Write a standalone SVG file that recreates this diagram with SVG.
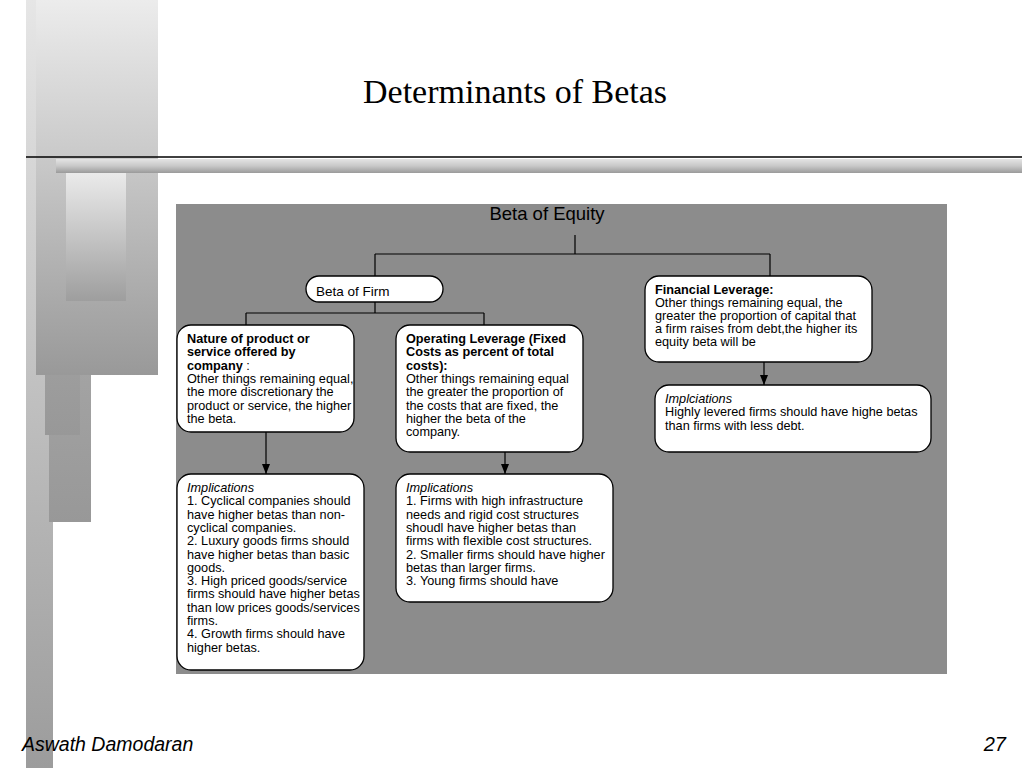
<svg xmlns="http://www.w3.org/2000/svg" width="1024" height="768" viewBox="0 0 1024 768">
<defs>
<linearGradient id="gStrip" x1="0" y1="0" x2="0" y2="1"><stop offset="0" stop-color="#e6e6e6"/><stop offset="1" stop-color="#9c9c9c"/></linearGradient>
<linearGradient id="gBig" x1="0" y1="0" x2="0" y2="1"><stop offset="0" stop-color="#ececec"/><stop offset="1" stop-color="#999999"/></linearGradient>
<linearGradient id="gMid" x1="0" y1="0" x2="0" y2="1"><stop offset="0" stop-color="#b4b4b4"/><stop offset="1" stop-color="#989898"/></linearGradient>
<linearGradient id="gSmall" x1="0" y1="0" x2="0" y2="1"><stop offset="0" stop-color="#ebebeb"/><stop offset="1" stop-color="#9e9e9e"/></linearGradient>
<linearGradient id="gBar" x1="0" y1="0" x2="0" y2="1"><stop offset="0" stop-color="#e4e4e4"/><stop offset="0.5" stop-color="#c8c8c8"/><stop offset="1" stop-color="#9a9a9a"/></linearGradient>
<marker id="arr" markerWidth="10" markerHeight="8" refX="10" refY="4" orient="auto" markerUnits="userSpaceOnUse" viewBox="0 0 10 8">
<path d="M0,0 L10,4 L0,8 Z" fill="#000"/>
</marker>
<style>
.box{fill:#fff;stroke:#000;stroke-width:1.3}
.t{font-family:"Liberation Sans",Arial,sans-serif;font-size:12.7px;fill:#000}
.b{font-weight:bold}
.i{font-style:italic}
.c{stroke:#000;stroke-width:1.2;fill:none}
</style>
</defs>
<rect width="1024" height="768" fill="#fff"/>
<g id="decoration">
<rect x="26" y="0" width="27" height="768" fill="url(#gStrip)"/>
<rect x="49" y="140" width="42" height="382" fill="url(#gMid)"/>
<rect x="45" y="100" width="35" height="335" fill="url(#gMid)"/>
<rect x="36" y="0" width="122" height="375" fill="url(#gBig)"/>
<rect x="66" y="172" width="60" height="129" fill="url(#gSmall)"/>
<line x1="26" y1="157" x2="1022" y2="157" stroke="#000" stroke-width="1.6"/>
<rect x="56" y="159" width="966" height="14" fill="url(#gBar)"/>
</g>
<text x="515" y="103" text-anchor="middle" font-family="Liberation Serif,'Times New Roman',serif" font-size="34" fill="#000">Determinants of Betas</text>
<rect x="176" y="204" width="771" height="470" fill="#8c8c8c"/>
<g id="connectors">
<path class="c" d="M575,235 V254 M375,254 H770 M375,254 V276 M770,254 V276"/>
<path class="c" d="M375,302 V313 M246,313 H484 M246,313 V325 M484,313 V325"/>
<line class="c" x1="266" y1="432" x2="266" y2="474" marker-end="url(#arr)"/>
<line class="c" x1="505" y1="452" x2="505" y2="474" marker-end="url(#arr)"/>
<line class="c" x1="764" y1="362" x2="764" y2="385" marker-end="url(#arr)"/>
</g>
<g id="beta-equity">
<text x="547" y="220" text-anchor="middle" font-family="Liberation Sans,Arial,sans-serif" font-size="18.5" fill="#000">Beta of Equity</text>
</g>
<g id="beta-firm">
<rect class="box" x="306" y="276" width="137" height="26" rx="13"/>
<text x="316" y="296" font-family="Liberation Sans,Arial,sans-serif" font-size="13.5" fill="#000">Beta of Firm</text>
</g>
<g id="nature">
<rect class="box" x="177" y="325" width="177" height="107" rx="14"/>
<text class="t" x="187" y="343"><tspan class="b">Nature of product or</tspan><tspan x="187" dy="13.3" class="b">service offered by</tspan><tspan x="187" dy="13.3"><tspan class="b">company</tspan> :</tspan><tspan x="187" dy="13.3">Other things remaining equal,</tspan><tspan x="187" dy="13.3">the more discretionary the</tspan><tspan x="187" dy="13.3">product or service, the higher</tspan><tspan x="187" dy="13.3">the beta.</tspan></text>
</g>
<g id="operating">
<rect class="box" x="396" y="325" width="187" height="127" rx="14"/>
<text class="t" x="406" y="343"><tspan class="b">Operating Leverage (Fixed</tspan><tspan x="406" dy="13.3" class="b">Costs as percent of total</tspan><tspan x="406" dy="13.3" class="b">costs):</tspan><tspan x="406" dy="13.3">Other things remaining equal</tspan><tspan x="406" dy="13.3">the greater the proportion of</tspan><tspan x="406" dy="13.3">the costs that are fixed, the</tspan><tspan x="406" dy="13.3">higher the beta of the</tspan><tspan x="406" dy="13.3">company.</tspan></text>
</g>
<g id="financial">
<rect class="box" x="645" y="276" width="227" height="86" rx="14"/>
<text class="t" x="655" y="294"><tspan class="b">Financial Leverage:</tspan><tspan x="655" dy="13.1">Other things remaining equal, the</tspan><tspan x="655" dy="13.1">greater the proportion of capital that</tspan><tspan x="655" dy="13.1">a firm raises from debt,the higher its</tspan><tspan x="655" dy="13.1">equity beta will be</tspan></text>
</g>
<g id="impl-financial">
<rect class="box" x="655" y="385" width="276" height="67" rx="14"/>
<text class="t" x="665" y="403"><tspan class="i">Implciations</tspan><tspan x="665" dy="13.3">Highly levered firms should have highe betas</tspan><tspan x="665" dy="13.3">than firms with less debt.</tspan></text>
</g>
<g id="impl-nature">
<rect class="box" x="177" y="474" width="187" height="196" rx="14"/>
<text class="t" x="187" y="492"><tspan class="i">Implications</tspan><tspan x="187" dy="13.3">1. Cyclical companies should</tspan><tspan x="187" dy="13.3">have higher betas than non-</tspan><tspan x="187" dy="13.3">cyclical companies.</tspan><tspan x="187" dy="13.3">2. Luxury goods firms should</tspan><tspan x="187" dy="13.3">have higher betas than basic</tspan><tspan x="187" dy="13.3">goods.</tspan><tspan x="187" dy="13.3">3. High priced goods/service</tspan><tspan x="187" dy="13.3">firms should have higher betas</tspan><tspan x="187" dy="13.3">than low prices goods/services</tspan><tspan x="187" dy="13.3">firms.</tspan><tspan x="187" dy="13.3">4. Growth firms should have</tspan><tspan x="187" dy="13.3">higher betas.</tspan></text>
</g>
<g id="impl-operating">
<rect class="box" x="396" y="474" width="217" height="128" rx="14"/>
<text class="t" x="406" y="492"><tspan class="i">Implications</tspan><tspan x="406" dy="13.3">1. Firms with high infrastructure</tspan><tspan x="406" dy="13.3">needs and rigid cost structures</tspan><tspan x="406" dy="13.3">shoudl have higher betas than</tspan><tspan x="406" dy="13.3">firms with flexible cost structures.</tspan><tspan x="406" dy="13.3">2. Smaller firms should have higher</tspan><tspan x="406" dy="13.3">betas than larger firms.</tspan><tspan x="406" dy="13.3">3. Young firms should have</tspan></text>
</g>
<text x="22" y="751" font-family="Liberation Sans,Arial,sans-serif" font-style="italic" font-size="19.5" fill="#000">Aswath Damodaran</text>
<text x="1006" y="751" text-anchor="end" font-family="Liberation Sans,Arial,sans-serif" font-style="italic" font-size="20" fill="#000">27</text>
</svg>
